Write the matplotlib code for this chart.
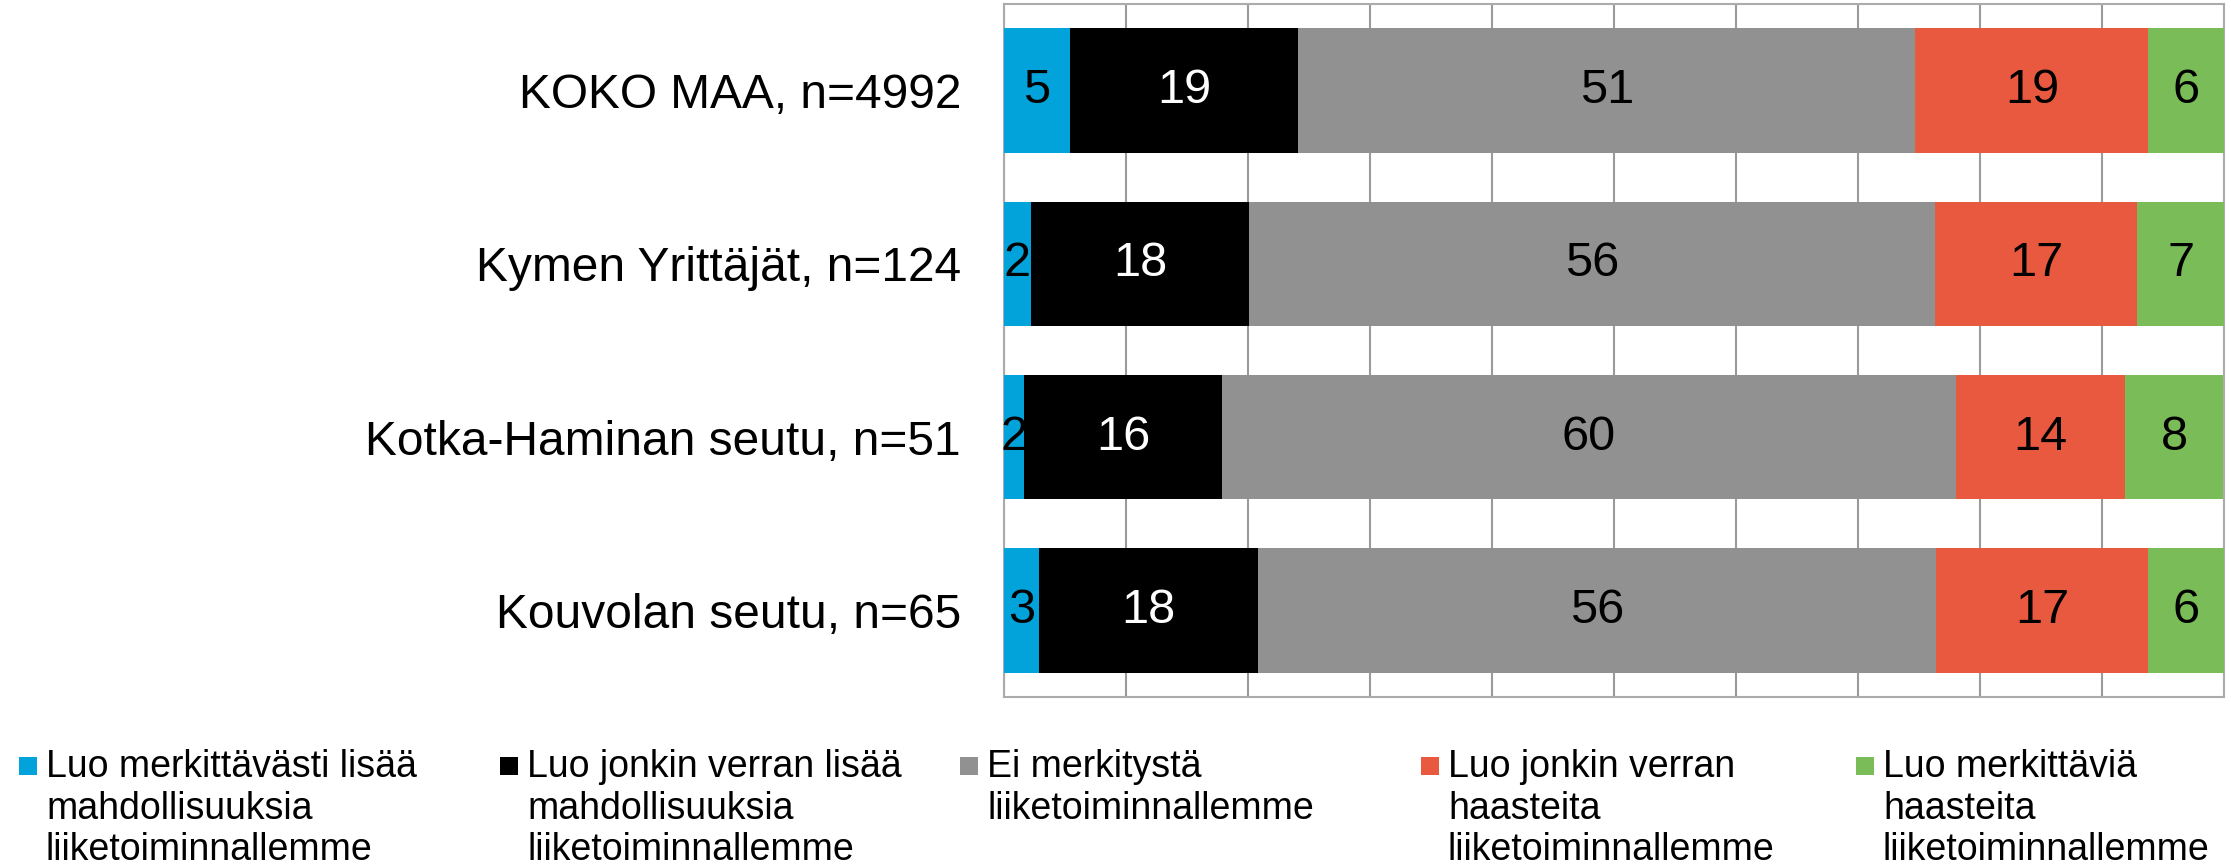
import matplotlib
matplotlib.use("Agg")
import matplotlib.pyplot as plt
from matplotlib.patches import Rectangle
import numpy as np

plt.rcParams['font.family'] = ['Liberation Sans', 'DejaVu Sans']

categories = ["KOKO MAA, n=4992", "Kymen Yrittäjät, n=124",
              "Kotka-Haminan seutu, n=51", "Kouvolan seutu, n=65"]
series_names = [
    "Luo merkittävästi lisää\nmahdollisuuksia\nliiketoiminnallemme",
    "Luo jonkin verran lisää\nmahdollisuuksia\nliiketoiminnallemme",
    "Ei merkitystä\nliiketoiminnallemme",
    "Luo jonkin verran\nhaasteita\nliiketoiminnallemme",
    "Luo merkittäviä\nhaasteita\nliiketoiminnallemme",
]
merkittavasti_lisaa = [5.4, 2.2, 1.6, 2.9]
jonkin_verran_lisaa = [18.7, 17.9, 16.3, 17.9]
ei_merkitysta = [50.6, 56.2, 60.1, 55.6]
jonkin_verran_haasteita = [19.1, 16.6, 13.9, 17.4]
merkittavia_haasteita = [6.2, 7.1, 8.0, 6.2]

series = [merkittavasti_lisaa, jonkin_verran_lisaa, ei_merkitysta,
          jonkin_verran_haasteita, merkittavia_haasteita]
colors = ["#02A3DA", "#000000", "#919191", "#E8593F", "#79BC58"]
label_colors = ["black", "white", "black", "black", "black"]

W, H = 2231, 865
fig = plt.figure(figsize=(W / 100, H / 100), dpi=100)
ax = fig.add_axes([1004 / W, 1 - 697 / H, (2224 - 1004) / W, (697 - 4) / H])

y = np.arange(len(categories))
left = np.zeros(len(categories))
for vals, c, lc in zip(series, colors, label_colors):
    bars = ax.barh(y, vals, left=left, height=0.72, color=c, zorder=3)
    ax.bar_label(bars, labels=[f"{v:.0f}" for v in vals], label_type='center',
                 color=lc, fontsize=35, zorder=4)
    left += np.array(vals)

ax.set_xlim(0, 100)
ax.set_ylim(len(categories) - 0.5, -0.5)
ax.set_xticks(np.arange(0, 101, 10))
ax.set_xticklabels([])
ax.tick_params(axis='x', length=0)
ax.set_yticks(y)
ax.set_yticklabels(categories, fontsize=34.5)
ax.tick_params(axis='y', length=0, pad=31)
ax.grid(axis='x', color='#9A9A9A', linewidth=1.5, zorder=0)
for s in ax.spines.values():
    s.set_color('#ABABAB')
    s.set_linewidth(1.5)

# Legend (manual, handle aligned to first line)
legend_x = [46, 527, 987, 1448, 1883]
baselines = [777, 819, 860]
for name, c, tx in zip(series_names, colors, legend_x):
    fig.patches.append(Rectangle(((tx - 27) / W, 1 - 775 / H), 18 / W, 18 / H,
                                 transform=fig.transFigure, facecolor=c,
                                 edgecolor='none'))
    for line, by in zip(name.split("\n"), baselines):
        fig.text(tx / W, 1 - by / H, line, fontsize=27, ha='left',
                 va='baseline', color='black')

fig.savefig("out.png", dpi=100)
